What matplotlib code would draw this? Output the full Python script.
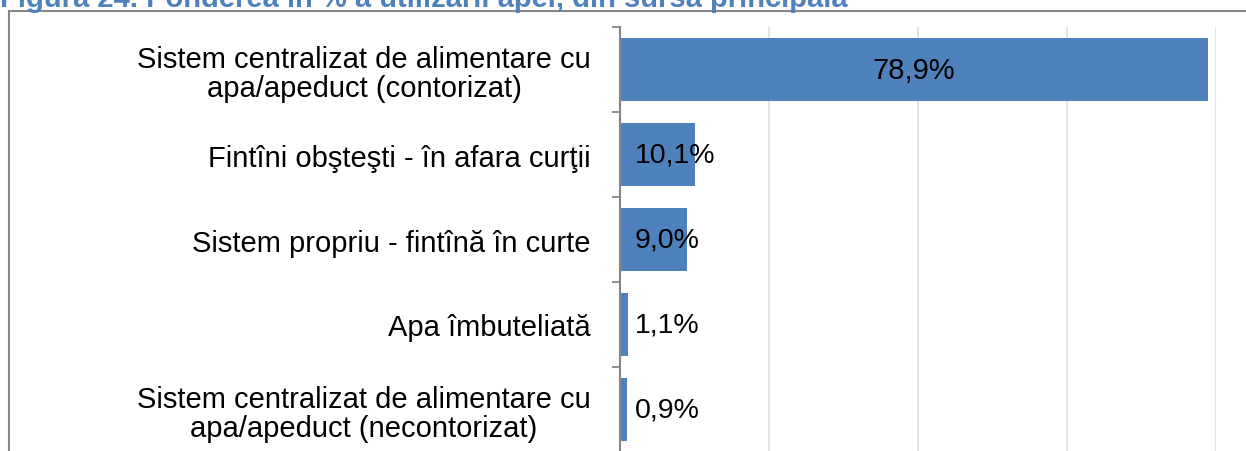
import numpy as np
import matplotlib.pyplot as plt
from matplotlib.lines import Line2D

# Data
categories = [
    "Sistem centralizat de alimentare cu\napa/apeduct (contorizat)",
    "Fintîni obşteşti - în afara curţii",
    "Sistem propriu - fintînă în curte",
    "Apa îmbuteliată",
    "Sistem centralizat de alimentare cu\napa/apeduct (necontorizat)",
]
values = [78.9, 10.1, 9.0, 1.1, 0.9]
value_labels = ["78,9%", "10,1%", "9,0%", "1,1%", "0,9%"]
title = "Figura 24. Ponderea în % a utilizării apei, din sursa principală"

plt.rcParams['font.family'] = ['Liberation Sans', 'DejaVu Sans']

bar_color = '#4f81bd'
W, H = 1246, 452
fig = plt.figure(figsize=(W / 100, H / 100), dpi=100)

# Axes placement in pixel terms
left, right, top, bottom = 620, 1216, 28, 453
ax = fig.add_axes([left / W, 1 - bottom / H, (right - left) / W, (bottom - top) / H])

y = np.arange(len(categories))
ax.barh(y, values, height=0.75, color=bar_color, zorder=3)
ax.set_xlim(0, 80)
ax.set_ylim(len(categories) - 0.5, -0.5)

# vertical gridlines
ax.set_xticks([0, 20, 40, 60, 80])
ax.xaxis.grid(True, color='#dce3ef', linewidth=1.3, zorder=0)
ax.tick_params(axis='x', length=0, labelbottom=False)

# boundary ticks on the y axis, labels at centers
ax.set_yticks(np.arange(-0.5, len(categories), 1.0))
ax.set_yticklabels([])
ax.tick_params(axis='y', which='major', length=6, width=1.3, color='#868686')
ax.set_yticks(y, minor=True)
ax.set_yticklabels(categories, minor=True, fontsize=21, multialignment='center',
                   linespacing=1.05)
ax.tick_params(axis='y', which='minor', length=0, pad=21)

for s in ['top', 'right', 'bottom']:
    ax.spines[s].set_visible(False)
ax.spines['left'].set_color('#868686')
ax.spines['left'].set_linewidth(1.5)
ax.spines['left'].set_zorder(4)

# data labels
for i, (v, lab) in enumerate(zip(values, value_labels)):
    if v > 40:
        ax.text(v / 2, i, lab, ha='center', va='center', fontsize=21, zorder=5)
    else:
        ax.text(2.0, i, lab, ha='left', va='center', fontsize=20.5, zorder=5)

# outer frame (cut at right and bottom)
fig.add_artist(Line2D([8.5 / W, 8.5 / W], [0, 1 - 11.5 / H], color='#868686', lw=1.5,
                      transform=fig.transFigure))
fig.add_artist(Line2D([8.5 / W, 1], [1 - 11.5 / H, 1 - 11.5 / H], color='#868686', lw=1.5,
                      transform=fig.transFigure))

# title, clipped at the top
fig.text(0.0, 1 - 7 / H, title, color=bar_color, fontsize=21, fontweight='bold',
         ha='left', va='baseline')

fig.savefig('out.png', dpi=100)
